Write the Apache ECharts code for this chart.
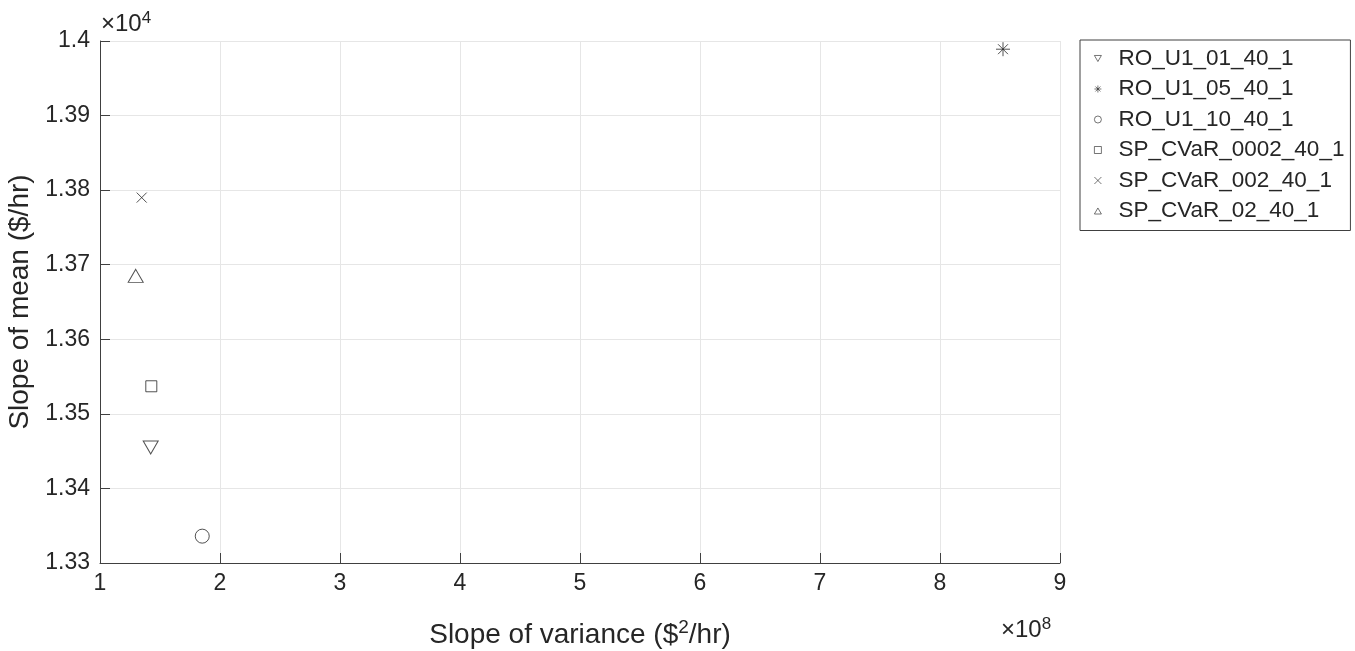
<!DOCTYPE html>
<html>
<head>
<meta charset="utf-8">
<script src="https://cdn.jsdelivr.net/npm/echarts@6/dist/echarts.min.js"></script>
<style>
  html, body { margin: 0; padding: 0; background: #fff; }
  #chart { width: 1355px; height: 651px; }
</style>
</head>
<body>
<div id="chart"></div>
<script>
// Run names
const seriesNames = [
  'RO_U1_01_40_1',
  'RO_U1_05_40_1',
  'RO_U1_10_40_1',
  'SP_CVaR_0002_40_1',
  'SP_CVaR_002_40_1',
  'SP_CVaR_02_40_1'
];
// Slope of variance, in units of 1e8 ($^2/hr)
const varianceSlope = [1.4225, 8.525, 1.852, 1.4275, 1.3475, 1.2975];
// Slope of mean, in units of 1e4 ($/hr)
const meanSlope = [1.3455, 1.3989, 1.3336, 1.3537, 1.3790, 1.3685];
// Axis ticks
const xTicks = [1, 2, 3, 4, 5, 6, 7, 8, 9];
const yTicks = [1.33, 1.34, 1.35, 1.36, 1.37, 1.38, 1.39, 1.4];

const FONT = '"Liberation Sans", Arial, Helvetica, sans-serif';
const INK = '#262626';
const AXIS = '#404040';
const GRID = '#e6e6e6';

const downTriangle = 'path://M0,0L10,0L5,8.66Z';
const upTriangle = 'path://M5,0L10,8.66L0,8.66Z';
const asterisk = 'path://M5,0L5,10M0,5L10,5M1.46,1.46L8.54,8.54M8.54,1.46L1.46,8.54';
const cross = 'path://M0,0L10,10M10,0L0,10';

const markerStyles = [
  { symbol: downTriangle, symbolSize: [15, 13] },
  { symbol: asterisk, symbolSize: 14 },
  { symbol: 'circle', symbolSize: 14 },
  { symbol: 'rect', symbolSize: 11 },
  { symbol: cross, symbolSize: 10 },
  { symbol: upTriangle, symbolSize: [15, 13] }
];

const series = seriesNames.map((name, i) => ({
  name: name,
  type: 'scatter',
  data: [[varianceSlope[i], meanSlope[i]]],
  symbol: markerStyles[i].symbol,
  symbolSize: markerStyles[i].symbolSize,
  itemStyle: { color: 'rgba(255,255,255,0)', borderColor: INK, borderWidth: 1 },
  emphasis: { disabled: true }
}));

const chart = echarts.init(document.getElementById('chart'), null, { renderer: 'canvas' });

const fmt2 = v => String(+(+v).toFixed(2));

const multiplier = (txt, left, top) => ({
  type: 'text',
  left: left,
  top: top,
  style: {
    text: txt,
    font: '24px ' + FONT,
    fill: INK,
    rich: { s: { fontSize: 17, fontFamily: FONT, fill: INK, verticalAlign: 'top', padding: [0, 0, 12, 0] } }
  }
});

chart.setOption({
  animation: false,
  backgroundColor: '#fff',
  textStyle: { fontFamily: FONT },
  grid: { left: 100, right: 295, top: 41, bottom: 88, containLabel: false, outerBoundsMode: 'none' },
  xAxis: {
    type: 'value',
    min: xTicks[0],
    max: xTicks[xTicks.length - 1],
    interval: 1,
    name: 'Slope of variance ($%/hr)'.replace('%', '{sup|2}'),
    nameLocation: 'middle',
    nameGap: 55,
    nameTextStyle: {
      fontFamily: FONT, fontSize: 28, color: INK,
      rich: { sup: { fontFamily: FONT, fontSize: 19, color: INK, verticalAlign: 'top', padding: [0, 0, 16, 0] } }
    },
    axisLine: { show: true, onZero: false, lineStyle: { color: AXIS, width: 1 } },
    axisTick: { show: true, inside: true, length: 10, lineStyle: { color: AXIS } },
    axisLabel: { fontSize: 23, color: INK, margin: 9, fontFamily: FONT, formatter: v => String(v) },
    splitLine: { show: true, lineStyle: { color: GRID, width: 1 } }
  },
  yAxis: {
    type: 'value',
    min: yTicks[0],
    max: yTicks[yTicks.length - 1],
    interval: 0.01,
    name: 'Slope of mean ($/hr)',
    nameLocation: 'middle',
    nameGap: 62,
    nameTextStyle: { fontFamily: FONT, fontSize: 28, color: INK },
    axisLine: { show: true, onZero: false, lineStyle: { color: AXIS, width: 1 } },
    axisTick: { show: true, inside: true, length: 10, lineStyle: { color: AXIS } },
    axisLabel: { fontSize: 23, color: INK, margin: 10, fontFamily: FONT, formatter: fmt2 },
    splitLine: { show: true, lineStyle: { color: GRID, width: 1 } }
  },
  legend: {
    orient: 'vertical',
    left: 1080,
    top: 40,
    padding: [7, 6, 8, 14],
    itemWidth: 7,
    itemHeight: 7,
    itemGap: 7.5,
    borderColor: AXIS,
    borderWidth: 1,
    backgroundColor: '#fff',
    selectedMode: false,
    itemStyle: { borderWidth: 0.8 },
    textStyle: { fontFamily: FONT, fontSize: 22.5, color: INK, padding: [0, 0, 0, 12] },
    data: seriesNames
  },
  graphic: [
    multiplier('×10{s|4}', 101, 10),
    multiplier('×10{s|8}', 1001, 616)
  ],
  series: series
});
</script>
</body>
</html>
